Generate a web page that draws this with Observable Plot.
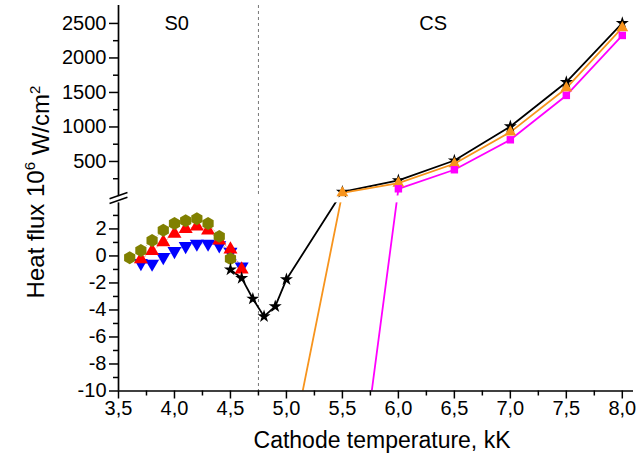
<!DOCTYPE html>
<html>
<head>
<meta charset="utf-8">
<script src="https://cdn.jsdelivr.net/npm/d3@7"></script>
<script src="https://cdn.jsdelivr.net/npm/@observablehq/plot@0.6"></script>
<style>
  html, body { margin: 0; padding: 0; background: #fff; }
  svg { font-family: "Liberation Sans", Arial, sans-serif; }
</style>
</head>
<body>
<div id="chart"></div>
<script>
// ---------- data (cathode temperature in kK, heat flux in 10^6 W/cm^2) ----------
const tOlive   = [3.6, 3.7, 3.8, 3.9, 4.0, 4.1, 4.2, 4.3, 4.4, 4.5];
const olive    = [-0.13, 0.4, 1.15, 1.9, 2.4, 2.6, 2.75, 2.4, 1.45, -0.2];
const tRedBlue = [3.7, 3.8, 3.9, 4.0, 4.1, 4.2, 4.3, 4.4, 4.5, 4.6];
const red      = [-0.25, 0.36, 1.02, 1.64, 2.0, 2.19, 1.89, 1.15, 0.48, -1.0];
const blue     = [-0.53, -0.58, -0.09, 0.36, 0.73, 0.9, 0.9, 0.78, 0.3, -0.78];
const tBlack   = [4.5, 4.6, 4.7, 4.8, 4.9, 5.0, 5.5, 6.0, 6.5, 7.0, 7.5, 8.0];
const black    = [-1.02, -1.64, -3.17, -4.48, -3.74, -1.74, 60, 225, 514, 1007, 1649, 2504];
const tOrange  = [5.0, 5.5, 6.0, 6.5, 7.0, 7.5, 8.0];
const orange   = [-16, 45, 185, 467, 925, 1562, 2438];
const tMagenta = [5.5, 6.0, 6.5, 7.0, 7.5, 8.0];
const magenta  = [-26.5, 104, 380, 814, 1457, 2326];

const xMajor = [3.5, 4.0, 4.5, 5.0, 5.5, 6.0, 6.5, 7.0, 7.5, 8.0];
const xMinor = [3.75, 4.25, 4.75, 5.25, 5.75, 6.25, 6.75, 7.25, 7.75];
const yLowMajor = [-10, -8, -6, -4, -2, 0, 2];
const yLowMinor = [-9, -7, -5, -3, -1, 1, 3];
const yHighMajor = [500, 1000, 1500, 2000, 2500];
const yHighMinor = [250, 750, 1250, 1750, 2250];
const phaseLabels = [{t: 4.02, v: 2500, text: "S0"}, {t: 6.31, v: 2500, text: "CS"}];
const boundaryT = [4.75];

// ---------- broken y axis: lower segment [-10, ~3.9], upper segment [0, ~2760] ----------
const lowTop = 3.93;        // top of lower segment
const highBase = 4.44;      // virtual position of value 0 in upper segment
const highScale = 195.7;    // heat-flux units per virtual unit in upper segment
const highThreshold = 5;    // values above this belong to the upper segment
const u = v => v > highThreshold ? highBase + v / highScale : v;
const yTop = u(2760);

const series = (ts, vs) => ts.map((t, i) => ({t, v: vs[i], y: u(vs[i])}));
const dOlive = series(tOlive, olive);
const dRed = series(tRedBlue, red);
const dBlue = series(tRedBlue, blue);
const dBlack = series(tBlack, black);
const dOrange = series(tOrange, orange);
const dMagenta = series(tMagenta, magenta);

const fmtX = d => d.toFixed(1).replace(".", ",");
const yMajorTicks = [...yLowMajor, ...yHighMajor.map(u)];
const yMajorLabels = [...yLowMajor.map(String), ...yHighMajor.map(String)];
const fmtY = d => {
  const i = yMajorTicks.findIndex(t => Math.abs(t - d) < 1e-9);
  return i >= 0 ? yMajorLabels[i] : "";
};

const chart = Plot.plot({
  width: 641,
  height: 468,
  marginLeft: 118,
  marginRight: 8,
  marginTop: 5,
  marginBottom: 77.5,
  style: {fontFamily: '"Liberation Sans", Arial, sans-serif', fontSize: "20px", background: "white", color: "black"},
  x: {domain: [3.5, 8.1]},
  y: {domain: [-10, yTop]},
  marks: [
    // phase boundary
    Plot.ruleX(boundaryT, {stroke: "#777", strokeDasharray: "3,3", strokeWidth: 1}),
    // faint connecting lines of the S0 series
    Plot.line(dBlue, {x: "t", y: "y", stroke: "#0000ff", strokeWidth: 0.8, strokeOpacity: 0.5, strokeDasharray: "2,2"}),
    Plot.line(dRed, {x: "t", y: "y", stroke: "#ff0000", strokeWidth: 0.8, strokeOpacity: 0.5, strokeDasharray: "2,2"}),
    Plot.line(dOlive, {x: "t", y: "y", stroke: "#808000", strokeWidth: 0.8, strokeOpacity: 0.5, strokeDasharray: "2,2"}),
    // main lines
    Plot.line(dBlack, {x: "t", y: "y", stroke: "black", strokeWidth: 1.8, clip: true}),
    Plot.line(dOrange, {x: "t", y: "y", stroke: "#f7941d", strokeWidth: 1.8, clip: true}),
    Plot.line(dMagenta, {x: "t", y: "y", stroke: "#ff00ff", strokeWidth: 1.8, clip: true}),
    // gap of the axis break
    Plot.rect([0], {y1: () => lowTop, y2: () => highBase, fill: "white"}),
    // markers
    Plot.dot(dBlue, {x: "t", y: "y", symbol: "triangle", rotate: 180, r: 5.2, fill: "#0000ff", stroke: "none"}),
    Plot.dot(dRed, {x: "t", y: "y", symbol: "triangle", r: 5.2, fill: "#ff0000", stroke: "none"}),
    Plot.dot(dOlive, {x: "t", y: "y", symbol: "hexagon", r: 5.6, fill: "#808000", stroke: "none"}),
    Plot.dot(dBlack.filter(d => d.y >= -10), {x: "t", y: "y", symbol: "star", r: 4.1, fill: "black", stroke: "none"}),
    Plot.dot(dOrange.filter(d => d.y >= -10), {x: "t", y: "y", symbol: "triangle", r: 4.4, fill: "#f7941d", stroke: "none"}),
    Plot.dot(dMagenta.filter(d => d.y >= -10), {x: "t", y: "y", symbol: "square", r: 4.2, fill: "#ff00ff", stroke: "none"}),
    // phase labels
    Plot.text(phaseLabels, {x: "t", y: d => u(d.v), text: "text", fontSize: 20, fill: "black"}),
    // axes
    Plot.ruleY([-10], {stroke: "black", strokeWidth: 1.7}),
    Plot.ruleX([3.5], {y1: -10, y2: lowTop, stroke: "black", strokeWidth: 1.7}),
    Plot.ruleX([3.5], {y1: highBase - 0.05, y2: yTop, stroke: "black", strokeWidth: 1.7}),
    Plot.axisX({ticks: xMajor, tickFormat: fmtX, tickSize: 8, tickPadding: 2, strokeWidth: 1.5, fontSize: 20, label: null}),
    Plot.axisX({ticks: xMinor, tickFormat: () => "", tickSize: 5, strokeWidth: 1.5, label: null}),
    Plot.axisY({ticks: yMajorTicks, tickFormat: fmtY, tickSize: 9, tickPadding: 3, strokeWidth: 1.5, fontSize: 20, label: null}),
    Plot.axisY({ticks: [...yLowMinor, ...yHighMinor.map(u)], tickFormat: () => "", tickSize: 5, strokeWidth: 1.5, label: null}),
    // axis break marks
    Plot.link([0, 0.35], {x1: () => 3.5 - 0.08, x2: () => 3.5 + 0.08, y1: d => lowTop - 0.05 + d, y2: d => lowTop + 0.42 + d, stroke: "black", strokeWidth: 1.5, clip: false}),
    // x title
    Plot.text(["Cathode temperature, kK"], {frameAnchor: "bottom", dx: 6, dy: 57, fontSize: 23, fill: "black"})
  ]
});

// y title with superscripts
const svg = d3.select(chart);
const yt = svg.append("text")
  .attr("transform", "translate(44,192) rotate(-90)")
  .attr("text-anchor", "middle")
  .attr("font-size", 24)
  .attr("fill", "black");
yt.append("tspan").text("Heat flux 10");
yt.append("tspan").attr("dy", "-0.6em").attr("font-size", 15).text("6");
yt.append("tspan").attr("dy", "0.6em").text(" W/cm");
yt.append("tspan").attr("dy", "-0.6em").attr("font-size", 15).text("2");

document.getElementById("chart").appendChild(chart);
</script>
</body>
</html>
